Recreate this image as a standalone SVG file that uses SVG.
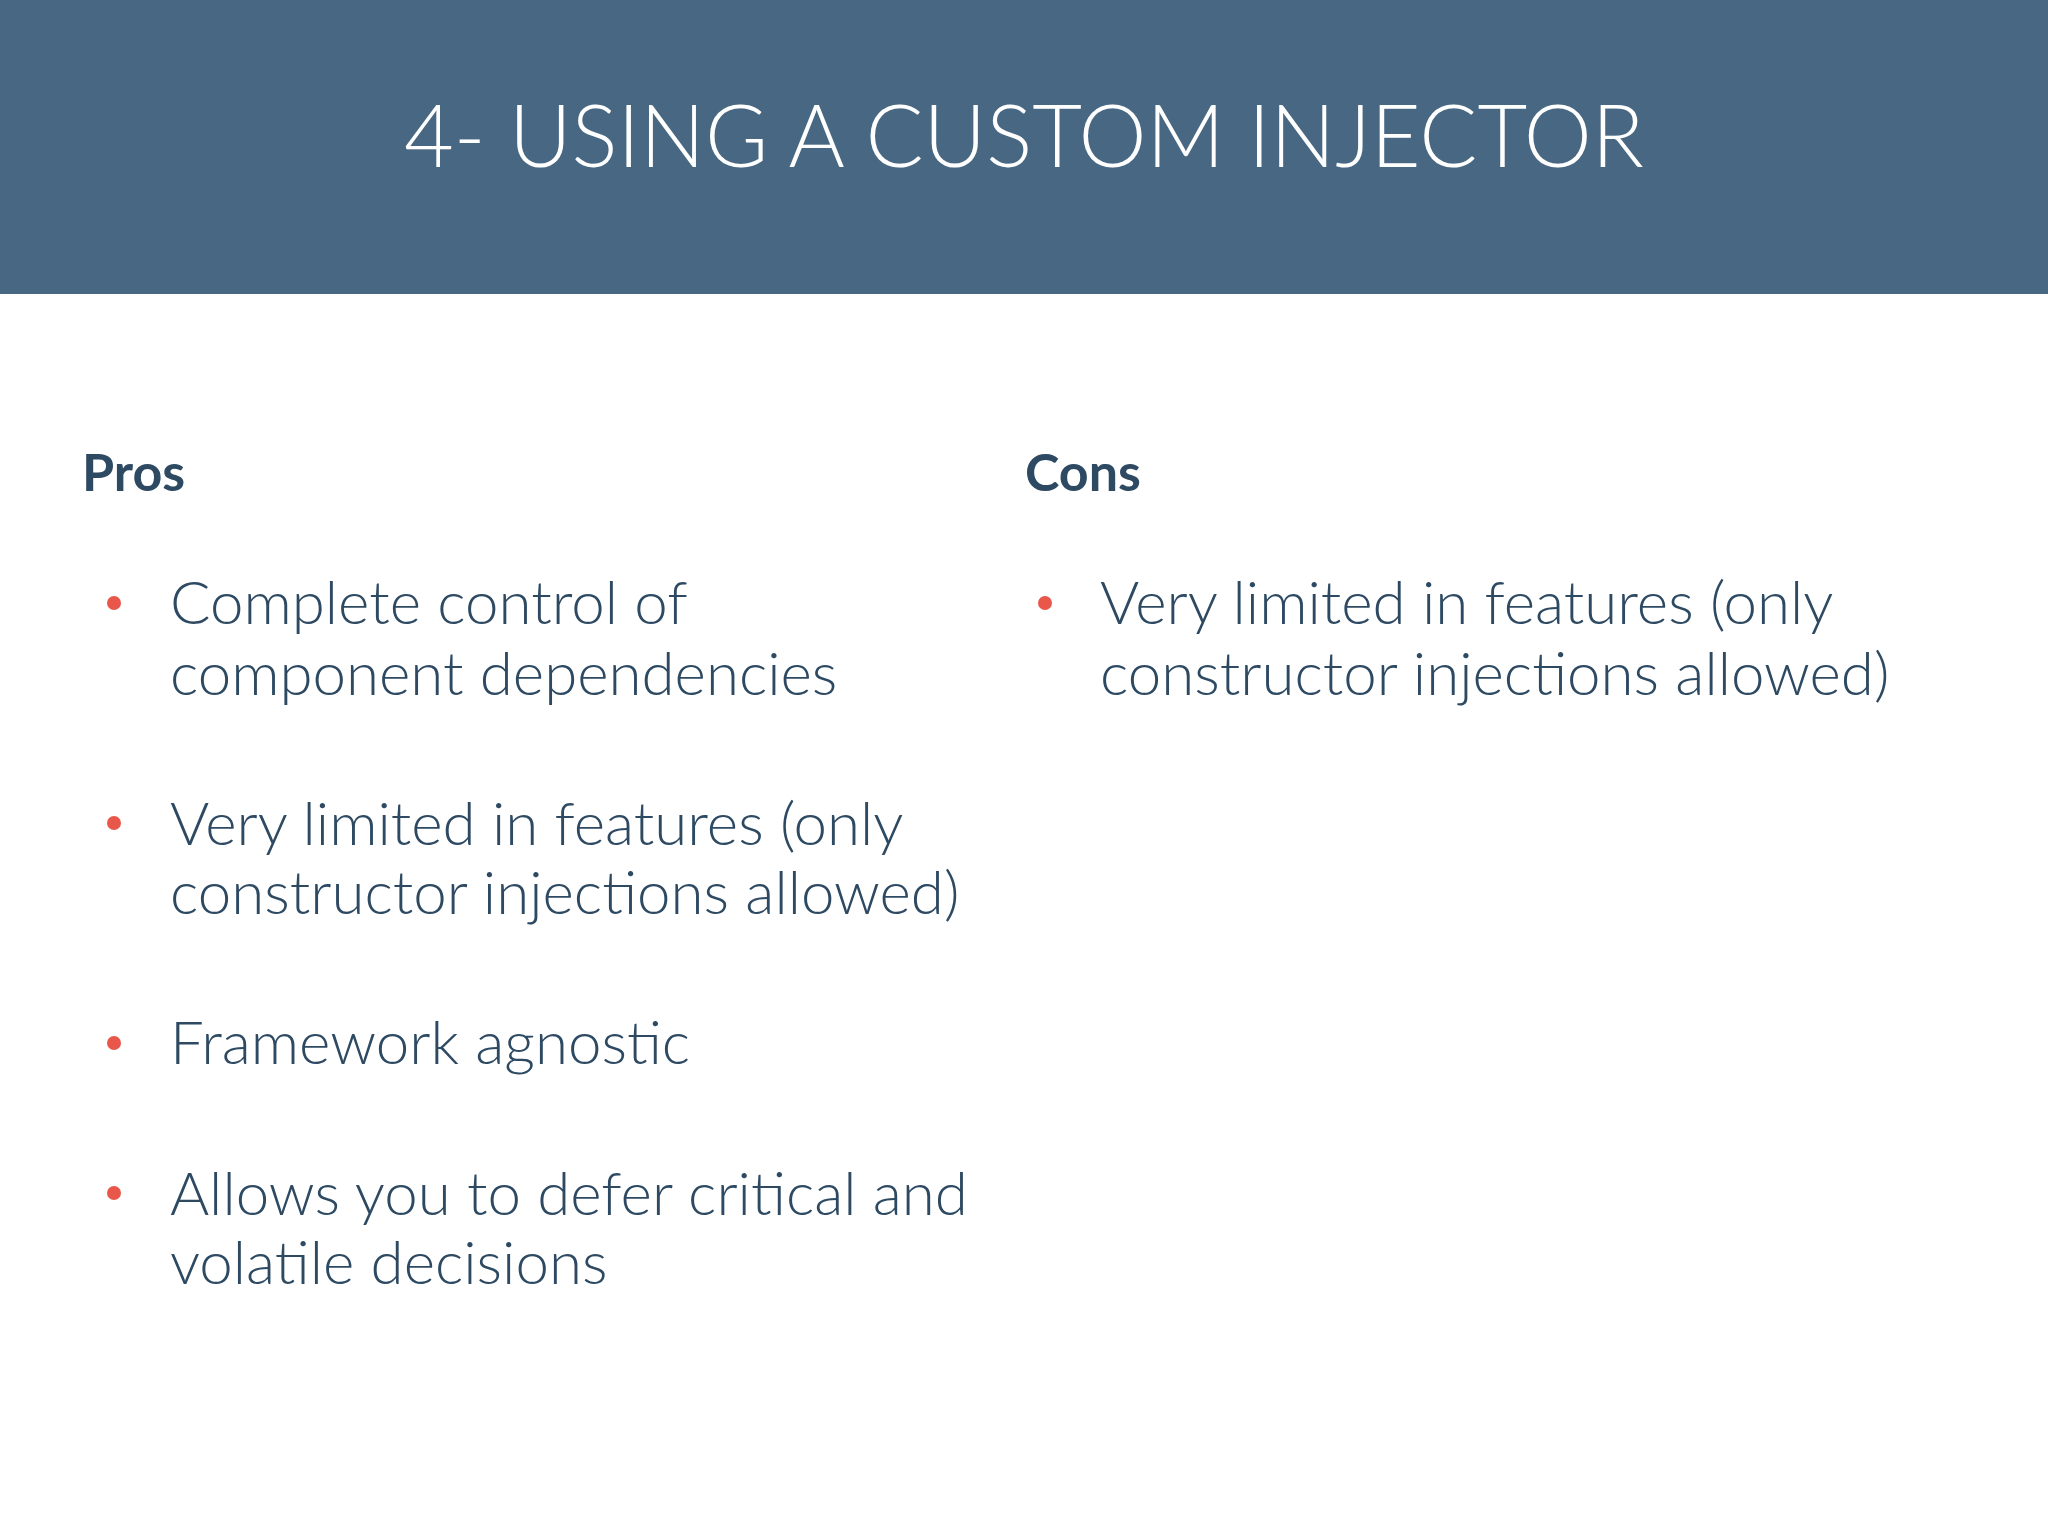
<svg xmlns="http://www.w3.org/2000/svg" width="2048" height="1536" viewBox="0 0 2048 1536">
<style>
.t{font-family:Lato,"Open Sans",sans-serif;font-weight:300;font-size:60px;fill:#2e4a63}
.h{font-family:Lato,"Open Sans",sans-serif;font-weight:700;font-size:52px;fill:#2e4a63}
.d{fill:#e8574a}
</style>
<rect width="2048" height="1536" fill="#fff"/>
<g id="header">
<rect width="2048" height="294" fill="#476782"/>
<text x="1024" y="167" text-anchor="middle" font-family="Lato,'Open Sans',sans-serif" font-weight="300" font-size="86" fill="#fff">4- USING A CUSTOM INJECTOR</text>
</g>
<g id="pros">
<text class="h" x="82" y="491">Pros</text>
<circle class="d" cx="114" cy="603" r="7"/>
<text class="t" x="170" y="624">Complete control of</text>
<text class="t" x="170" y="695">component dependencies</text>
<circle class="d" cx="114" cy="823" r="7"/>
<text class="t" x="170" y="845">Very limited in features (only</text>
<text class="t" x="170" y="914">constructor injections allowed)</text>
<circle class="d" cx="114" cy="1043" r="7"/>
<text class="t" x="170" y="1064">Framework agnostic</text>
<circle class="d" cx="114" cy="1193" r="7"/>
<text class="t" x="170" y="1215">Allows you to defer critical and</text>
<text class="t" x="170" y="1284">volatile decisions</text>
</g>
<g id="cons">
<text class="h" x="1025" y="491">Cons</text>
<circle class="d" cx="1045" cy="603" r="7"/>
<text class="t" x="1100" y="624">Very limited in features (only</text>
<text class="t" x="1100" y="695">constructor injections allowed)</text>
</g>
<g id="connectors"/>
</svg>
